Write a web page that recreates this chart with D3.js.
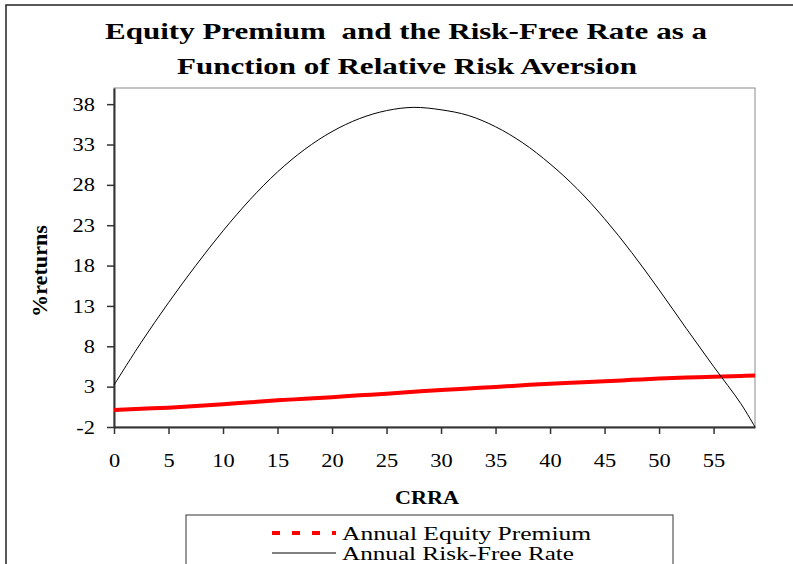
<!DOCTYPE html>
<html>
<head>
<meta charset="utf-8">
<script src="https://cdn.jsdelivr.net/npm/d3@7"></script>
<style>
  body { margin: 0; background: #fff; }
  text { font-family: "Liberation Serif", "DejaVu Serif", serif; fill: #000; }
</style>
</head>
<body>
<div id="chart"></div>
<script>
// CRRA values (x)
var crra = [0, 2.5, 5, 7.5, 10, 12.5, 15, 17.5, 20, 22.5, 25, 27.5, 30,
    32.5, 35, 37.5, 40, 42.5, 45, 47.5, 50, 52.5, 55, 57.5, 58.8];

// Annual Equity Premium (%)
var equityPremium = [0.1, 0.25, 0.4, 0.6, 0.82, 1.06, 1.3, 1.5, 1.7, 1.92, 2.13, 2.36, 2.58,
    2.77, 2.96, 3.17, 3.37, 3.52, 3.66, 3.84, 4.0, 4.12, 4.22, 4.32, 4.38];

// Annual Risk-Free Rate (%)
var riskFree = [3.2, 8.5, 13.4, 18.0, 22.3, 26.2, 29.6, 32.4, 34.6, 36.2, 37.2, 37.6, 37.3,
    36.6, 35.2, 33.2, 30.6, 27.5, 23.8, 19.6, 15.0, 10.2, 5.5, 0.9, -2];

var xTicks = [0, 5, 10, 15, 20, 25, 30, 35, 40, 45, 50, 55];
var yTicks = [-2, 3, 8, 13, 18, 23, 28, 33, 38];

var width = 793,
    height = 564;

var plot = { left: 114, top: 88, right: 755, bottom: 427 };

// the original picture is a bit wider than tall, so stretch text sideways
function stretch(sel, k) {
    sel.each(function () {
        var w = this.getComputedTextLength();
        d3.select(this)
            .attr("textLength", w * k)
            .attr("lengthAdjust", "spacingAndGlyphs");
    });
}

var svg = d3.select("#chart")
    .append("svg")
    .attr("width", width)
    .attr("height", height);

// outer frame
svg.append("rect")
    .attr("x", 6).attr("y", 5)
    .attr("width", 820).attr("height", 620)
    .attr("fill", "none")
    .attr("stroke", "#222")
    .attr("stroke-width", 1.5);

var x = d3.scaleLinear()
    .domain([0, 58.8])
    .range([plot.left, plot.right]);

var y = d3.scaleLinear()
    .domain([-2, 40])
    .range([plot.bottom, plot.top]);

// plot area border (top / right)
svg.append("rect")
    .attr("x", plot.left).attr("y", plot.top)
    .attr("width", plot.right - plot.left)
    .attr("height", plot.bottom - plot.top)
    .attr("fill", "none")
    .attr("stroke", "#8a8a8a")
    .attr("stroke-width", 1);

var fmt = function (d) { return String(d); };

var xAxis = svg.append("g")
    .attr("transform", "translate(0," + plot.bottom + ")")
    .call(d3.axisBottom(x).tickValues(xTicks).tickFormat(fmt)
        .tickSize(7).tickSizeOuter(0).tickPadding(20));

var yAxis = svg.append("g")
    .attr("transform", "translate(" + plot.left + ",0)")
    .call(d3.axisLeft(y).tickValues(yTicks).tickFormat(fmt)
        .tickSize(7).tickSizeOuter(0).tickPadding(12));

[xAxis, yAxis].forEach(function (a) {
    a.select(".domain").attr("stroke", "#333").attr("stroke-width", 2);
    a.selectAll(".tick line").attr("stroke", "#333").attr("stroke-width", 1.5);
    a.selectAll(".tick text")
        .style("font-family", "'Liberation Serif', serif")
        .style("font-size", "19px")
        .attr("fill", "#000")
        .call(stretch, 1.18);
});

var line = d3.line()
    .x(function (d, i) { return x(crra[i]); })
    .y(function (d) { return y(d); })
    .curve(d3.curveCatmullRom);

svg.append("path")
    .datum(equityPremium)
    .attr("d", line)
    .attr("fill", "none")
    .attr("stroke", "#ff0000")
    .attr("stroke-width", 4);

svg.append("path")
    .datum(riskFree)
    .attr("d", line)
    .attr("fill", "none")
    .attr("stroke", "#000")
    .attr("stroke-width", 1);

// title
svg.append("text")
    .attr("x", 406).attr("y", 39)
    .attr("text-anchor", "middle")
    .attr("textLength", 602)
    .attr("lengthAdjust", "spacingAndGlyphs")
    .style("font-size", "23px")
    .style("font-weight", "bold")
    .style("white-space", "pre")
    .text("Equity Premium  and the Risk-Free Rate as a");

svg.append("text")
    .attr("x", 407).attr("y", 74)
    .attr("text-anchor", "middle")
    .attr("textLength", 460)
    .attr("lengthAdjust", "spacingAndGlyphs")
    .style("font-size", "23px")
    .style("font-weight", "bold")
    .text("Function of Relative Risk Aversion");

// axis titles
svg.append("text")
    .attr("x", 427).attr("y", 504)
    .attr("text-anchor", "middle")
    .attr("textLength", 64)
    .attr("lengthAdjust", "spacingAndGlyphs")
    .style("font-size", "18px")
    .style("font-weight", "bold")
    .text("CRRA");

svg.append("text")
    .attr("transform", "translate(47,271) rotate(-90)")
    .attr("text-anchor", "middle")
    .attr("textLength", 92)
    .attr("lengthAdjust", "spacingAndGlyphs")
    .style("font-size", "20px")
    .style("font-weight", "bold")
    .text("%returns");

// legend
var legend = svg.append("g");

legend.append("rect")
    .attr("x", 186).attr("y", 515)
    .attr("width", 487).attr("height", 80)
    .attr("fill", "#fff")
    .attr("stroke", "#333")
    .attr("stroke-width", 1);

var legendItems = [
    { label: "Annual Equity Premium", color: "#ff0000", width: 4, dash: "8,12", len: 249 },
    { label: "Annual Risk-Free Rate", color: "#000", width: 1, dash: null, len: 232 }
];

legendItems.forEach(function (d, i) {
    var ly = 533 + i * 20;
    legend.append("line")
        .attr("x1", 272).attr("x2", 336)
        .attr("y1", ly).attr("y2", ly)
        .attr("stroke", d.color)
        .attr("stroke-width", d.width)
        .attr("stroke-dasharray", d.dash);
    legend.append("text")
        .attr("x", 342).attr("y", ly + 7)
        .attr("textLength", d.len)
        .attr("lengthAdjust", "spacingAndGlyphs")
        .style("font-size", "18px")
        .text(d.label);
});
</script>
</body>
</html>
